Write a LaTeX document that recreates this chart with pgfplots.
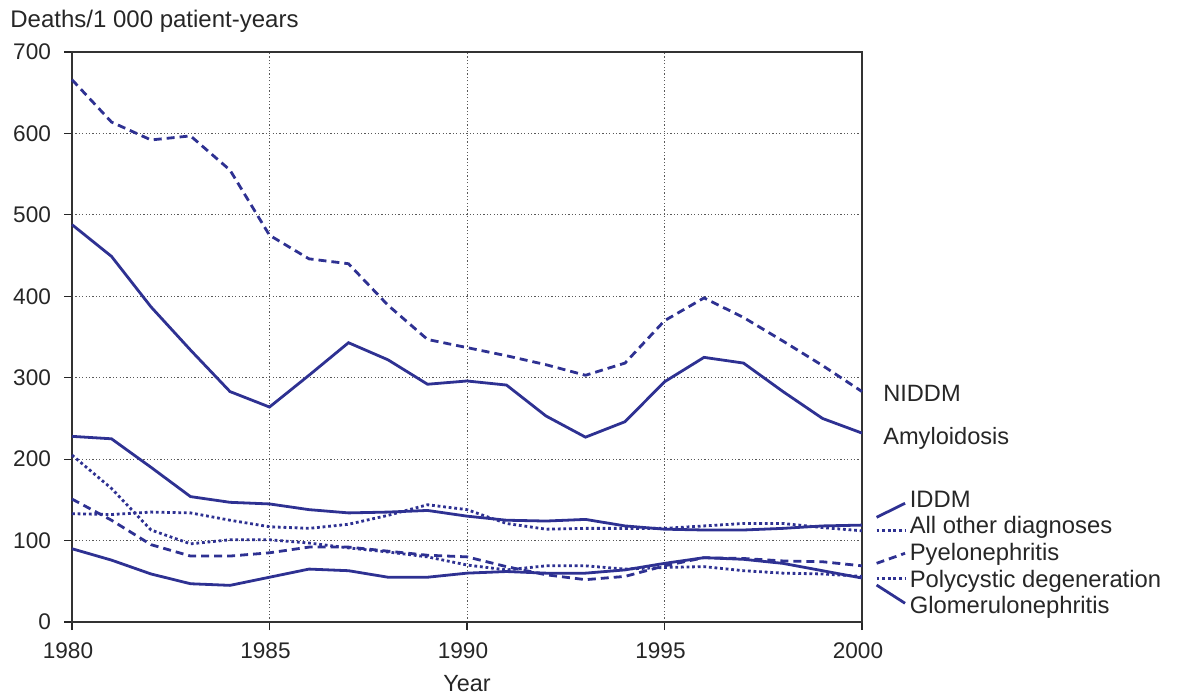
\documentclass[border=0pt]{standalone}
\usepackage{pgfplots}
\pgfplotsset{compat=1.18}
\usepackage{fontspec}
\setmainfont{Liberation Sans}
\definecolor{navy}{RGB}{46,49,146}
\begin{document}
\begin{tikzpicture}[
  solidl/.style={navy, line width=1.4pt, no marks},
  dashl/.style={navy, line width=1.4pt, no marks, dash pattern=on 4pt off 2.5pt},
  dotl/.style={navy, line width=1.4pt, no marks, dash pattern=on 1.4pt off 1.4pt},
]
\begin{axis}[
  at={(0,0)}, anchor=south west,
  scale only axis, width=395pt, height=285pt,
  xmin=1980, xmax=2000, ymin=0, ymax=700,
  xtick={1980,1985,...,2000}, ytick={0,100,...,700},
  /pgf/number format/assume math mode=true,
  /pgf/number format/1000 sep={},
  tick label style={font=\fontsize{11.3}{13}\selectfont, text=black!85},
  tick pos=left, tick align=outside, major tick length=4pt,
  tick style={black!85, line width=0.6pt},
  axis line style={black!80, line width=0.6pt},
  grid=major,
  major grid style={black!65, line width=0.5pt, dash pattern=on 0.6pt off 1.1pt},
  yticklabel style={anchor=east, xshift=-3pt},
  xticklabel style={anchor=base, yshift=-14pt, xshift=-2pt},
  clip=false,
]
% NIDDM (dashed)
\addplot[dashl] coordinates {
(1980,666)(1981,614)(1982,592)(1983,597)(1984,555)(1985,475)(1986,446)(1987,440)(1988,389)(1989,347)(1990,337)
(1991,327)(1992,316)(1993,303)(1994,318)(1995,370)(1996,398)(1997,374)(1998,345)(1999,315)(2000,283)};
% Amyloidosis (solid)
\addplot[solidl] coordinates {
(1980,488)(1981,449)(1982,387)(1983,334)(1984,283)(1985,264)(1986,303)(1987,343)(1988,322)(1989,292)(1990,296)
(1991,291)(1992,253)(1993,227)(1994,246)(1995,295)(1996,325)(1997,318)(1998,283)(1999,250)(2000,232)};
% IDDM (solid)
\addplot[solidl] coordinates {
(1980,228)(1981,225)(1982,190)(1983,154)(1984,147)(1985,145)(1986,138)(1987,134)(1988,135)(1989,137)(1990,130)
(1991,125)(1992,124)(1993,126)(1994,118)(1995,114)(1996,113)(1997,113)(1998,115)(1999,118)(2000,119)};
% All other diagnoses (dotted)
\addplot[dotl] coordinates {
(1980,133)(1981,132)(1982,135)(1983,134)(1984,125)(1985,117)(1986,115)(1987,120)(1988,131)(1989,144)(1990,138)
(1991,121)(1992,114)(1993,115)(1994,115)(1995,115)(1996,118)(1997,121)(1998,121)(1999,116)(2000,112)};
% Pyelonephritis (dashed)
\addplot[dashl] coordinates {
(1980,151)(1981,125)(1982,95)(1983,81)(1984,81)(1985,85)(1986,92)(1987,92)(1988,87)(1989,82)(1990,80)
(1991,68)(1992,58)(1993,52)(1994,56)(1995,69)(1996,79)(1997,78)(1998,75)(1999,74)(2000,69)};
% Polycystic degeneration (dotted)
\addplot[dotl] coordinates {
(1980,205)(1981,164)(1982,113)(1983,96)(1984,101)(1985,101)(1986,97)(1987,91)(1988,86)(1989,80)(1990,70)
(1991,64)(1992,69)(1993,69)(1994,65)(1995,67)(1996,68)(1997,63)(1998,60)(1999,59)(2000,56)};
% Glomerulonephritis (solid)
\addplot[solidl] coordinates {
(1980,90)(1981,76)(1982,59)(1983,47)(1984,45)(1985,55)(1986,65)(1987,63)(1988,55)(1989,55)(1990,60)
(1991,62)(1992,60)(1993,60)(1994,64)(1995,72)(1996,79)(1997,77)(1998,72)(1999,63)(2000,54)};

% key segments
\draw[solidl] (axis cs:2000.37,128.6) -- (axis cs:2001.09,145.8);
\draw[dotl] (axis cs:2000.37,112.1) -- (axis cs:2001.09,112.1);
\draw[dashl] (axis cs:2000.37,72.1) -- (axis cs:2001.09,84.4);
\draw[dotl] (axis cs:2000.37,53.2) -- (axis cs:2001.09,53.2);
\draw[solidl] (axis cs:2000.37,45.4) -- (axis cs:2001.09,23.0);

\begin{scope}[every node/.style={anchor=base west, inner sep=0pt, text=black!85}]
\node[font=\fontsize{11.8}{14}\selectfont] at (axis cs:2000.53,271.4) {NIDDM};
\node[font=\fontsize{11.8}{14}\selectfont] at (axis cs:2000.53,218.6) {Amyloidosis};
\node[font=\fontsize{11.9}{14}\selectfont] at (axis cs:2001.2,140.9) {IDDM};
\node[font=\fontsize{11.9}{14}\selectfont] at (axis cs:2001.2,108.1) {All other diagnoses};
\node[font=\fontsize{11.9}{14}\selectfont] at (axis cs:2001.2,76.1) {Pyelonephritis};
\node[font=\fontsize{11.9}{14}\selectfont] at (axis cs:2001.2,42.6) {Polycystic degeneration};
\node[font=\fontsize{11.9}{14}\selectfont] at (axis cs:2001.2,10.7) {Glomerulonephritis};
\node[font=\fontsize{12}{14}\selectfont] at ([xshift=-31pt,yshift=12.5pt]axis description cs:0,1) {Deaths/1 000 patient-years};
\end{scope}
\node[anchor=base, inner sep=0pt, text=black!85, font=\fontsize{11.7}{14}\selectfont] at ([yshift=-34.5pt]axis description cs:0.5,0) {Year};
\end{axis}
\path[use as bounding box] (-36pt,-35.5pt) rectangle (552.5pt,311pt);
\end{tikzpicture}
\end{document}
